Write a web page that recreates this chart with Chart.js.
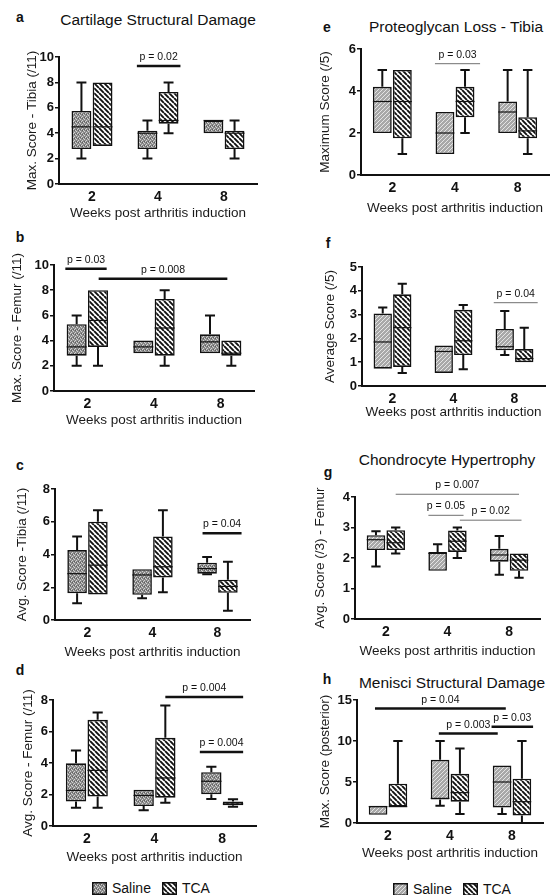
<!DOCTYPE html>
<html>
<head>
<meta charset="utf-8">
<script src="https://cdn.jsdelivr.net/npm/chart.js@4.4.0/dist/chart.umd.min.js"></script>
<style>
    body { margin: 0; width: 550px; height: 895px; position: relative; overflow: hidden; background: #fff;
           font-family: "Liberation Sans", Arial, sans-serif; color: #111; }
    canvas.panel { position: absolute; }
    .txt { position: absolute; transform: translate(-50%, -50%); white-space: nowrap; }
    .letter { font-weight: bold; font-size: 14px; }
    .ptitle { font-size: 15.5px; }
    .legend { position: absolute; display: flex; align-items: center; font-size: 14px; transform: translateY(-50%); }
    .legend canvas { margin-right: 5px; }
    .legend span { margin-right: 11px; }
</style>
</head>
<body>

<div class="txt letter" style="left:20px;top:17px">a</div>
<div class="txt ptitle" style="left:158px;top:20px">Cartilage Structural Damage</div>
<div class="txt letter" style="left:327px;top:27px">e</div>
<div class="txt ptitle" style="left:456px;top:27px">Proteoglycan Loss - Tibia</div>
<div class="txt letter" style="left:20px;top:237px">b</div>
<div class="txt letter" style="left:328px;top:243px">f</div>
<div class="txt letter" style="left:20px;top:465px">c</div>
<div class="txt letter" style="left:328px;top:472px">g</div>
<div class="txt ptitle" style="left:447px;top:460px">Chondrocyte Hypertrophy</div>
<div class="txt letter" style="left:20px;top:670px">d</div>
<div class="txt letter" style="left:327px;top:679px">h</div>
<div class="txt ptitle" style="left:452px;top:683px">Menisci Structural Damage</div>

<div class="legend" style="left:92px;top:888px">
    <canvas class="sw-dots" width="15" height="13"></canvas><span>Saline</span>
    <canvas class="sw-tca" width="15" height="13"></canvas><span>TCA</span>
</div>
<div class="legend" style="left:393px;top:889px">
    <canvas class="sw-hatch" width="15" height="13"></canvas><span>Saline</span>
    <canvas class="sw-tca" width="15" height="13"></canvas><span>TCA</span>
</div>

<script>
// x categories: weeks after arthritis induction
const weeks = ['2', '4', '8'];

// every box is [min, q1, median, q3, max]
const aSaline = [[2, 2.75, 4.5, 5.75, 8], [2, 2.75, 4, 4.2, 5], [4, 4, 5, 5, 5]];
const aTca    = [[3, 3, 4.5, 8, 8], [4, 4.75, 5, 7.25, 8], [2, 2.75, 4, 4.2, 5]];
const aPvals  = [{ text: 'p = 0.02', y: 9.3, from: 0.68, to: 1.34 }];

const eSaline = [[2, 2, 3.5, 4.2, 5], [1, 1, 2, 3, 3], [2, 2, 3, 3.5, 5]];
const eTca    = [[1, 1.75, 3.5, 5, 5], [2, 2.75, 3.5, 4.2, 5], [1, 1.75, 2.1, 2.75, 5]];
const ePvals  = [{ text: 'p = 0.03', y: 5.3, from: 0.68, to: 1.4 }];

const bSaline = [[2, 2.8, 3.5, 5.3, 6], [3, 3, 3.5, 4, 4], [3, 3, 3.9, 4.5, 6]];
const bTca    = [[2, 3.5, 5.6, 8, 8], [2, 2.8, 5, 7.3, 8], [2, 2.8, 3, 4, 4]];
const bPvals  = [
    { text: 'p = 0.03', y: 9.7, from: -0.33, to: 0.29 },
    { text: 'p = 0.008', y: 8.9, from: 0.17, to: 2.1 }
];

const fSaline = [[0.73, 0.73, 1.85, 3.05, 3.3], [0.55, 0.55, 1.45, 1.7, 1.7], [1.3, 1.5, 1.65, 2.4, 3.15]];
const fTca    = [[0.55, 0.8, 2.45, 3.85, 4.3], [0.7, 1.3, 1.9, 3.2, 3.4], [1.0, 1.0, 1.15, 1.55, 2.45]];
const fPvals  = [{ text: 'p = 0.04', y: 3.5, from: 1.66, to: 2.38 }];

const cSaline = [[1.03, 1.64, 2.83, 4.27, 5.1], [1.33, 1.54, 2.75, 3.1, 3.1], [2.8, 2.83, 3.14, 3.5, 3.84]];
const cTca    = [[1.56, 1.56, 3.35, 6.0, 6.7], [1.7, 2.6, 3.25, 5.1, 6.7], [0.57, 1.66, 2.05, 2.46, 3.55]];
const cPvals  = [{ text: 'p = 0.04', y: 5.3, from: 1.77, to: 2.37 }];

const gSaline = [[1.72, 2.26, 2.6, 2.75, 2.88], [1.58, 1.58, 2.15, 2.2, 2.45], [1.45, 1.88, 2.1, 2.3, 2.72]];
const gTca    = [[2.15, 2.26, 2.5, 2.91, 3.0], [2.0, 2.2, 2.55, 2.9, 3.0], [1.35, 1.58, 1.93, 2.15, 2.15]];
const gPvals  = [
    { text: 'p = 0.007', y: 4.09, from: 0.16, to: 2.16 },
    { text: 'p = 0.05', y: 3.4, from: 0.69, to: 1.26 },
    { text: 'p = 0.02', y: 3.24, from: 1.2, to: 2.2 }
];

const dSaline = [[1.16, 1.55, 2.26, 3.98, 4.8], [1.0, 1.27, 1.94, 2.3, 2.3], [1.72, 2.02, 2.84, 3.42, 3.76]];
const dTca    = [[1.16, 1.87, 3.53, 6.74, 7.2], [1.48, 1.8, 3.05, 5.6, 7.65], [1.23, 1.31, 1.4, 1.55, 1.7]];
const dPvals  = [
    { text: 'p = 0.004', y: 8.19, from: 1.16, to: 2.31 },
    { text: 'p = 0.004', y: 4.7, from: 1.67, to: 2.31 }
];

const hSaline = [[1, 1, 2, 2.1, 2.1], [2.1, 2.86, 3, 7.7, 10], [1.1, 1.9, 5, 7, 7]];
const hTca    = [[2, 2, 2, 4.8, 10], [1.1, 2.6, 3.7, 6, 9.1], [0, 0.9, 2.6, 5.4, 10]];
const hPvals  = [
    { text: 'p = 0.04', y: 13.95, from: -0.21, to: 1.9 },
    { text: 'p = 0.003', y: 10.9, from: 0.82, to: 1.77 },
    { text: 'p = 0.03', y: 11.75, from: 1.67, to: 2.34 }
];

// hatch fills like the GraphPad original
function tile(size, draw) {
    const c = document.createElement('canvas');
    c.width = size; c.height = size;
    const g = c.getContext('2d');
    draw(g);
    return g.createPattern(c, 'repeat');
}

// left column: dense stippled grey
const dotsPattern = tile(4, g => {
    g.fillStyle = '#8a8a8a';
    g.fillRect(0, 0, 4, 4);
    g.fillStyle = '#d2d2d2';
    [[0, 0], [2, 1], [1, 2], [3, 3]].forEach(([x, y]) => g.fillRect(x, y, 1, 1));
    g.fillStyle = '#5e5e5e';
    [[2, 3], [0, 2]].forEach(([x, y]) => g.fillRect(x, y, 1, 1));
});

// right column: lighter grey with fine "/" hatching
const hatchPattern = tile(4, g => {
    g.fillStyle = '#a8a8a8';
    g.fillRect(0, 0, 4, 4);
    g.strokeStyle = '#e4e4e4';
    g.lineWidth = 1;
    g.beginPath();
    g.moveTo(0, 4); g.lineTo(4, 0);
    g.moveTo(-1, 1); g.lineTo(1, -1);
    g.moveTo(3, 5); g.lineTo(5, 3);
    g.stroke();
});

const tcaPattern = tile(5, g => {
    g.fillStyle = '#fff';
    g.fillRect(0, 0, 5, 5);
    g.strokeStyle = '#111';
    g.lineWidth = 1.9;
    g.beginPath();
    [-5, 0, 5].forEach(k => { g.moveTo(k, 0); g.lineTo(k + 5, 5); });
    g.stroke();
});

document.querySelectorAll('.legend canvas').forEach(cv => {
    const g = cv.getContext('2d');
    g.fillStyle = cv.classList.contains('sw-dots') ? dotsPattern
        : cv.classList.contains('sw-hatch') ? hatchPattern : tcaPattern;
    g.fillRect(0, 0, cv.width, cv.height);
    g.strokeStyle = '#111';
    g.lineWidth = 1.5;
    g.strokeRect(0.75, 0.75, cv.width - 1.5, cv.height - 1.5);
});

const panels = [
    { id: 'pa', rect: [59, 57, 257, 184], yMax: 10, yStep: 2, yTitle: 'Max. Score - Tibia (/11)', yTitleX: 32, xTitleY: 213, saline: aSaline, tca: aTca, pvals: aPvals, heavy: true, fill: dotsPattern },
    { id: 'pe', rect: [361, 49, 549, 175], yMax: 6, yStep: 2, yTitle: 'Maximum Score (/5)', yTitleX: 325, xTitleY: 208, saline: eSaline, tca: eTca, pvals: ePvals, heavy: false, fill: hatchPattern },
    { id: 'pb', rect: [54, 265, 254, 391], yMax: 10, yStep: 2, yTitle: 'Max. Score - Femur (/11)', yTitleX: 17, xTitleY: 420, saline: bSaline, tca: bTca, pvals: bPvals, heavy: true, fill: dotsPattern },
    { id: 'pf', rect: [362, 267, 545, 386], yMax: 5, yStep: 1, yTitle: 'Average Score (/5)', yTitleX: 330, xTitleY: 412, saline: fSaline, tca: fTca, pvals: fPvals, heavy: false, fill: hatchPattern },
    { id: 'pc', rect: [55, 489, 250, 620], yMax: 8, yStep: 2, yTitle: 'Avg. Score -Tibia (/11)', yTitleX: 22, xTitleY: 652, saline: cSaline, tca: cTca, pvals: cPvals, heavy: true, fill: dotsPattern },
    { id: 'pg', rect: [355, 497, 540, 619], yMax: 4, yStep: 1, yTitle: 'Avg. Score (/3) - Femur', yTitleX: 320, xTitleY: 651, saline: gSaline, tca: gTca, pvals: gPvals, heavy: false, fill: hatchPattern },
    { id: 'pd', rect: [53, 700, 256, 826], yMax: 8, yStep: 2, yTitle: 'Avg. Score - Femur (/11)', yTitleX: 28, xTitleY: 857, saline: dSaline, tca: dTca, pvals: dPvals, heavy: true, fill: dotsPattern },
    { id: 'ph', rect: [357, 700, 543, 823], yMax: 15, yStep: 5, yTitle: 'Max. Score (posterior)', yTitleX: 325, xTitleY: 853, saline: hSaline, tca: hTca, pvals: hPvals, heavy: true, fill: hatchPattern }
];
const panelById = {};
panels.forEach(p => { panelById[p.id] = p; });

// whiskers, medians and significance bars
const boxPlot = {
    id: 'boxPlot',
    afterDatasetsDraw(chart) {
        const p = panelById[chart.canvas.id];
        const ctx = chart.ctx;
        const xs = chart.scales.x;
        const ys = chart.scales.y;
        ctx.save();
        ctx.strokeStyle = '#111';
        chart.data.datasets.forEach((ds, di) => {
            const stats = di === 0 ? p.saline : p.tca;
            chart.getDatasetMeta(di).data.forEach((bar, i) => {
                const [mn, q1, med, q3, mx] = stats[i];
                const x = bar.x;
                const hw = bar.width / 2;
                const cap = bar.width / 4;
                ctx.lineWidth = 2;
                ctx.beginPath();
                if (mx > q3) {
                    ctx.moveTo(x, ys.getPixelForValue(q3));
                    ctx.lineTo(x, ys.getPixelForValue(mx));
                    ctx.moveTo(x - cap, ys.getPixelForValue(mx));
                    ctx.lineTo(x + cap, ys.getPixelForValue(mx));
                }
                if (mn < q1) {
                    ctx.moveTo(x, ys.getPixelForValue(q1));
                    ctx.lineTo(x, ys.getPixelForValue(mn));
                    ctx.moveTo(x - cap, ys.getPixelForValue(mn));
                    ctx.lineTo(x + cap, ys.getPixelForValue(mn));
                }
                ctx.stroke();
                const my = ys.getPixelForValue(med);
                ctx.lineWidth = 1.2;
                ctx.beginPath();
                ctx.moveTo(x - hw, my);
                ctx.lineTo(x + hw, my);
                ctx.stroke();
            });
        });

        const x0 = xs.getPixelForValue(0);
        const step = xs.getPixelForValue(1) - x0;
        ctx.font = '10.5px "Liberation Sans", Arial, sans-serif';
        ctx.textAlign = 'center';
        ctx.textBaseline = 'middle';
        p.pvals.forEach(pv => {
            const ya = ys.getPixelForValue(pv.y);
            const xa = x0 + pv.from * step;
            const xb = x0 + pv.to * step;
            ctx.strokeStyle = p.heavy ? '#111' : '#707070';
            ctx.lineWidth = p.heavy ? 2.5 : 1;
            ctx.beginPath();
            ctx.moveTo(xa, ya);
            ctx.lineTo(xb, ya);
            ctx.stroke();
            ctx.fillStyle = '#111';
            ctx.fillText(pv.text, (xa + xb) / 2, ya - 9);
        });
        ctx.restore();
    }
};

Chart.defaults.font.family = '"Liberation Sans", Arial, sans-serif';
Chart.defaults.color = '#111';

function makePanel(p) {
    const [l, t, r, b] = p.rect;
    const lh = 13.5 * 1.2;
    const padTop = 34;
    const padRight = 8;
    const left = Math.round(p.yTitleX - lh / 2);
    const top = t - padTop;
    const bottomEdge = Math.round(p.xTitleY + lh / 2);
    const yW = l - left;
    const xH = bottomEdge - b;

    const cv = document.createElement('canvas');
    cv.id = p.id;
    cv.className = 'panel';
    cv.width = r + padRight - left;
    cv.height = bottomEdge - top;
    cv.style.left = left + 'px';
    cv.style.top = top + 'px';
    document.body.appendChild(cv);

    const boxStyle = {
        borderColor: '#111',
        borderWidth: 1.6,
        borderSkipped: false,
        categoryPercentage: 0.64,
        barPercentage: 0.94
    };

    new Chart(cv, {
        type: 'bar',
        data: {
            labels: weeks,
            datasets: [
                Object.assign({ label: 'Saline', data: p.saline.map(s => [s[1], s[3]]), backgroundColor: p.fill }, boxStyle),
                Object.assign({ label: 'TCA', data: p.tca.map(s => [s[1], s[3]]), backgroundColor: tcaPattern }, boxStyle)
            ]
        },
        options: {
            responsive: false,
            animation: false,
            devicePixelRatio: 1,
            layout: { padding: { top: padTop, right: padRight, left: 0, bottom: 0 } },
            plugins: { legend: { display: false }, tooltip: { enabled: false } },
            scales: {
                x: {
                    offset: true,
                    grid: { display: false, drawTicks: false },
                    border: { display: true, color: '#111', width: 2 },
                    ticks: { font: { size: 14, weight: 'bold' }, color: '#111', padding: 5 },
                    title: { display: true, text: 'Weeks post arthritis induction', font: { size: 13.5 }, color: '#1a1a1a', padding: 0 },
                    afterFit: s => { s.height = xH; }
                },
                y: {
                    min: 0,
                    max: p.yMax,
                    grid: { display: true, drawOnChartArea: false, drawTicks: true, tickLength: 4, color: '#111', lineWidth: 1.5 },
                    border: { display: true, color: '#111', width: 2 },
                    ticks: { stepSize: p.yStep, font: { size: 13, weight: 'bold' }, color: '#111', padding: 1 },
                    title: { display: true, text: p.yTitle, font: { size: 13.5 }, color: '#1a1a1a', padding: 0 },
                    afterFit: s => { s.width = yW; }
                }
            }
        },
        plugins: [boxPlot]
    });
}

panels.forEach(makePanel);
</script>
</body>
</html>
